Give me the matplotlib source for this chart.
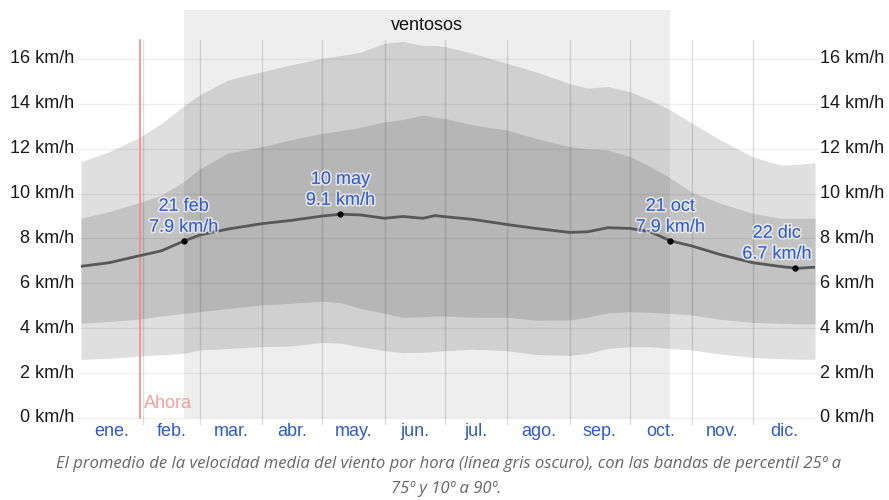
import matplotlib
matplotlib.use("Agg")
import matplotlib.pyplot as plt
import matplotlib.patheffects as pe
from matplotlib.patches import Rectangle

plt.rcParams['font.family'] = ['Liberation Sans', 'DejaVu Sans']

# ---- data ----
days = [0, 14, 29, 40, 51, 59, 73, 90, 104, 120, 129, 139, 151, 160, 170, 176,
        181, 195, 212, 226, 243, 252, 262, 273, 283, 293, 304, 318, 334, 348, 356, 365]
mean = [6.76, 6.92, 7.23, 7.45, 7.88, 8.15, 8.42, 8.66, 8.80, 9.00, 9.08, 9.05, 8.90, 8.98, 8.90, 9.02,
        8.97, 8.85, 8.62, 8.45, 8.27, 8.30, 8.48, 8.45, 8.30, 7.90, 7.66, 7.28, 6.92, 6.75, 6.67, 6.72]
p90 = [11.42, 11.87, 12.50, 13.13, 13.90, 14.40, 15.06, 15.43, 15.73, 16.03, 16.15, 16.30, 16.70, 16.78, 16.60, 16.60,
       16.55, 16.25, 15.80, 15.43, 14.90, 14.70, 14.77, 14.54, 14.17, 13.73, 13.13, 12.39, 11.64, 11.27, 11.30, 11.38]
p75 = [8.90, 9.20, 9.60, 9.94, 10.53, 11.10, 11.80, 12.09, 12.39, 12.69, 12.80, 12.95, 13.20, 13.30, 13.50, 13.40,
       13.35, 13.06, 12.83, 12.46, 12.09, 12.00, 11.94, 11.65, 11.20, 10.70, 10.05, 9.57, 9.12, 8.90, 8.90, 8.90]
p25 = [4.22, 4.30, 4.41, 4.55, 4.66, 4.74, 4.88, 5.04, 5.11, 5.21, 5.14, 4.89, 4.66, 4.49, 4.51, 4.55,
       4.55, 4.49, 4.49, 4.36, 4.37, 4.50, 4.69, 4.74, 4.71, 4.66, 4.59, 4.40, 4.26, 4.22, 4.20, 4.19]
p10 = [2.61, 2.66, 2.76, 2.82, 2.88, 3.03, 3.10, 3.18, 3.21, 3.37, 3.33, 3.18, 3.00, 2.91, 2.93, 2.97,
       3.00, 3.07, 3.00, 2.83, 2.79, 2.88, 3.10, 3.18, 3.18, 3.10, 3.03, 2.85, 2.70, 2.64, 2.62, 2.61]

month_starts = [0, 31, 59, 90, 120, 151, 181, 212, 243, 273, 304, 334, 365]
month_labels = ['ene.', 'feb.', 'mar.', 'abr.', 'may.', 'jun.', 'jul.', 'ago.', 'sep.', 'oct.', 'nov.', 'dic.']
yticks = [0, 2, 4, 6, 8, 10, 12, 14, 16]

windy_start, windy_end = 51, 293
now_day = 29.3

ann_days = [51, 129, 293, 355]
ann_vals = [7.9, 9.1, 7.9, 6.7]
ann_texts = ['21 feb\n7.9 km/h', '10 may\n9.1 km/h', '21 oct\n7.9 km/h', '22 dic\n6.7 km/h']
ann_dx = [0, 0, 0, -9]

# ---- figure ----
fig = plt.figure(figsize=(8.89, 5.0), dpi=100)
ax = fig.add_axes([81 / 889, 1 - 418 / 500, 734 / 889, 408 / 500])
ymax = (418 - 10) / 22.44
ax.set_xlim(0, 365)
ax.set_ylim(0, ymax)
for s in ax.spines.values():
    s.set_visible(False)
ax.set_xticks([])
ax.set_yticks([])

blue = '#2f5bc8'
fs = 13

# bands
ax.fill_between(days, p10, p90, color='#dfdfdf', lw=0, zorder=1)
ax.fill_between(days, p25, p75, color='#c3c3c3', lw=0, zorder=2)

# windy season overlay
ax.add_patch(Rectangle((windy_start, 0), windy_end - windy_start, ymax,
                       facecolor='black', alpha=0.068, lw=0, zorder=3))
ax.text((windy_start + windy_end) / 2, (418 - 25) / 22.44, 'ventosos', ha='center', va='center',
        fontsize=fs, color='#111111', zorder=10)

# gridlines
ytop = (418 - 40) / 22.44
ybot = (418 - 424) / 22.44
for d in month_starts[1:-1]:
    ax.plot([d, d], [ybot, ytop], color='black', alpha=0.13, lw=1, zorder=4, clip_on=False)
for v in yticks:
    ax.plot([-2, 366.5], [v, v], color='black', alpha=0.06, lw=1, zorder=4, clip_on=False)

# now line
ax.plot([now_day, now_day], [0, ytop], color='#f08a8a', lw=1.2, zorder=5, clip_on=False)
ax.text(now_day + 2.0, (418 - 403) / 22.44, 'Ahora', color='#f4a0a0', fontsize=fs,
        ha='left', va='center', zorder=10)

# mean line
ax.plot(days, mean, color='#585858', lw=2, zorder=6, solid_capstyle='round')

# annotations
halo = [pe.withStroke(linewidth=2.5, foreground='white', alpha=0.6)]
for d, v, t, dx in zip(ann_days, ann_vals, ann_texts, ann_dx):
    ax.plot([d], [v], 'o', color='black', ms=3.5, zorder=7)
    ax.annotate(t, xy=(d, v), xytext=(dx * 2.011, 5), textcoords='offset pixels',
                ha='center', va='bottom', fontsize=fs, color=blue, linespacing=1.3,
                path_effects=halo, zorder=9)

# y tick labels both sides
for v in yticks:
    ax.text(-3.3, v, f'{v} km/h', ha='right', va='center', fontsize=fs, color='#1a1a1a', clip_on=False)
    ax.text(367.5, v, f'{v} km/h', ha='left', va='center', fontsize=fs, color='#1a1a1a', clip_on=False)

# month labels
for i, lab in enumerate(month_labels):
    c = (month_starts[i] + month_starts[i + 1]) / 2
    ax.text(c, (418 - 432) / 22.44, lab, ha='center', va='center', fontsize=fs, color=blue, clip_on=False)

# caption
cap1 = 'El promedio de la velocidad media del viento por hora (línea gris oscuro), con las bandas de percentil 25º a'
cap2 = '75º y 10º a 90º.'
fig.text(449 / 889, 1 - 464 / 500, cap1, ha='center', va='center', fontsize=12,
         style='italic', color='#666666', family=['Open Sans', 'DejaVu Sans'])
fig.text(446 / 889, 1 - 489 / 500, cap2, ha='center', va='center', fontsize=12,
         style='italic', color='#666666', family=['Open Sans', 'DejaVu Sans'])

fig.savefig('out.png', dpi=100)
